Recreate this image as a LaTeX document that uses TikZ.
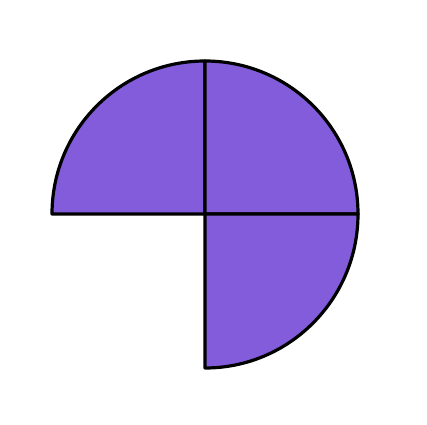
\documentclass[tikz,border=0pt]{standalone}
\begin{document}
\begin{tikzpicture}[x=1pt,y=1pt,
  wedge/.style={fill=wedgefill,draw=black,line width=3.2pt,line join=round}]
\definecolor{wedgefill}{HTML}{835CDC}
\useasboundingbox[fill=white] (0,0) rectangle (427,424);
\coordinate (c) at (205,210);
\draw[wedge] (c) -- ++(0,153) arc[start angle=90,end angle=180,radius=153] -- cycle;
\draw[wedge] (c) -- ++(153,0) arc[start angle=0,end angle=90,radius=153] -- cycle;
\draw[wedge] (c) -- ++(0,-154) arc[start angle=-90,end angle=0,x radius=153,y radius=154] -- cycle;
\end{tikzpicture}
\end{document}
